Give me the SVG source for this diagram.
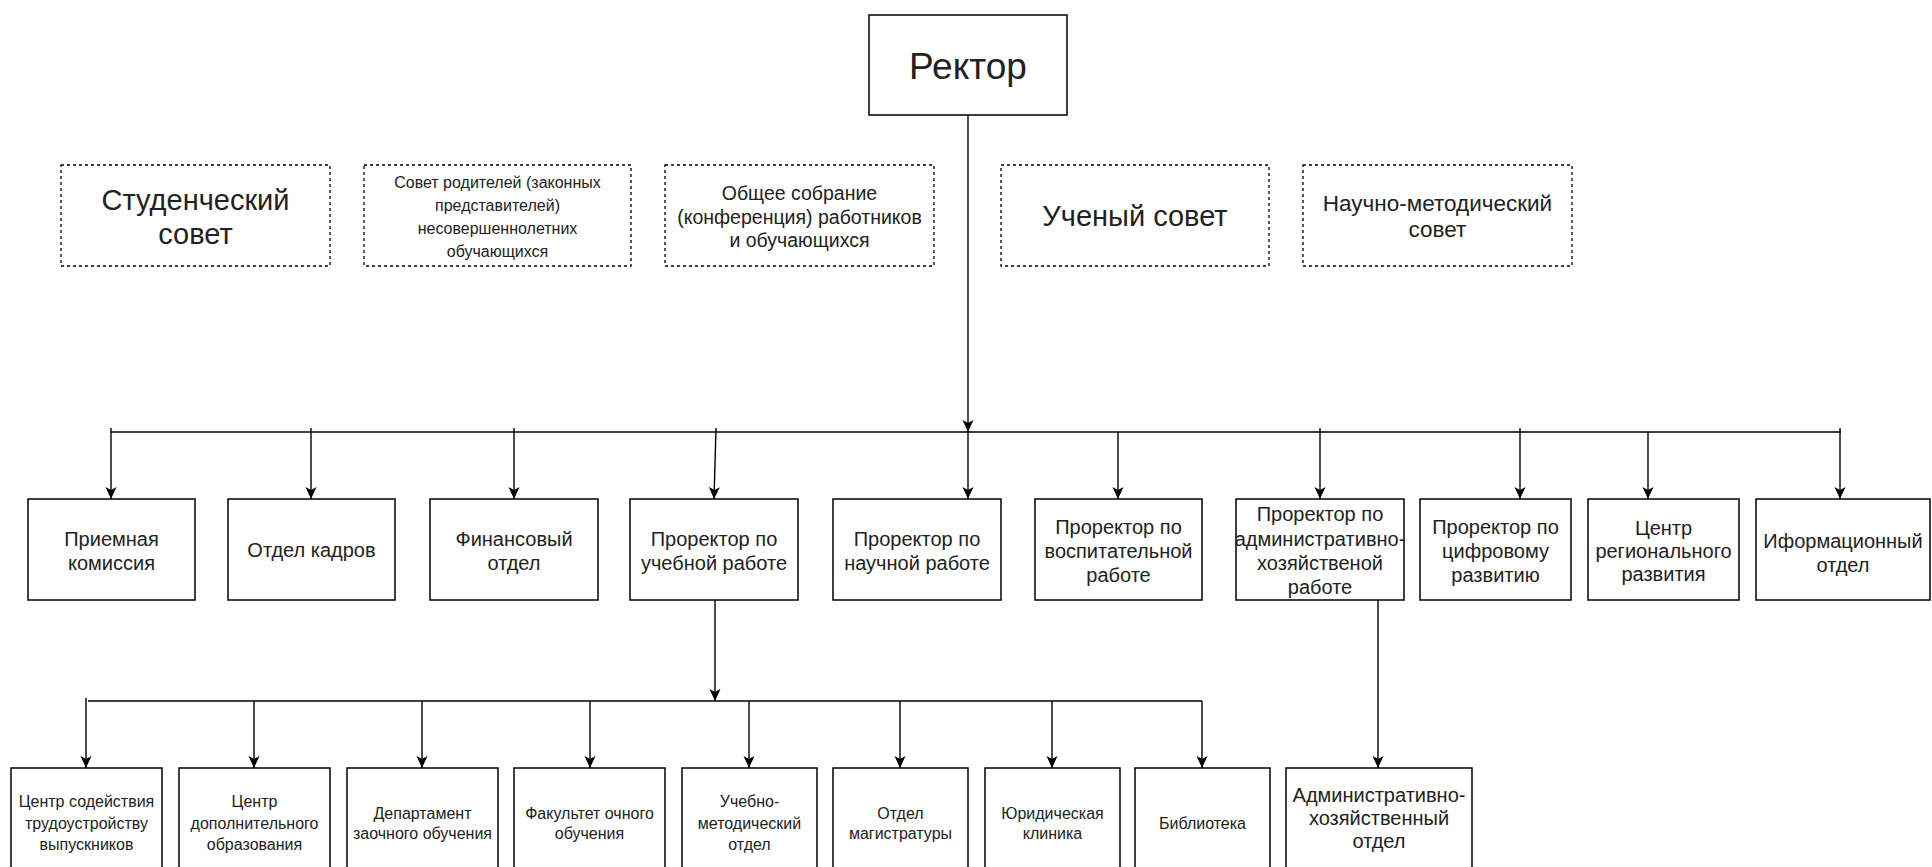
<svg xmlns="http://www.w3.org/2000/svg" width="1932" height="867" viewBox="0 0 1932 867">
<defs>
<marker id="arr" markerUnits="userSpaceOnUse" markerWidth="12" markerHeight="14" refX="12" refY="6" orient="auto" viewBox="0 0 12 12">
<path d="M0,0.5 L12,6 L0,11.5 L3,6 Z" fill="#000"/>
</marker>
<style>
.box{fill:#fff;stroke:#000;stroke-width:1.5}
.dash{fill:#fff;stroke:#000;stroke-width:1.3;stroke-dasharray:3 3}
.c{fill:none;stroke:#000;stroke-width:1.4}
.ca{fill:none;stroke:#000;stroke-width:1.4;marker-end:url(#arr)}
text{font-family:"Liberation Sans",Arial,sans-serif;fill:#222;text-anchor:middle}
.t1{font-size:20px}
.t2{font-size:16px}
</style>
</defs>
<rect width="1932" height="867" fill="#fff"/>

<g id="connectors">
<line class="ca" x1="968" y1="115" x2="968" y2="432"/>
<line class="c" x1="111" y1="432" x2="1841" y2="432"/>
<line class="ca" x1="111" y1="428" x2="111" y2="499"/>
<line class="ca" x1="311" y1="428" x2="311" y2="499"/>
<line class="ca" x1="514" y1="428" x2="514" y2="499"/>
<line class="ca" x1="716" y1="428" x2="714" y2="499"/>
<line class="ca" x1="968" y1="432" x2="968" y2="499"/>
<line class="ca" x1="1118" y1="432" x2="1118" y2="499"/>
<line class="ca" x1="1320" y1="428" x2="1320" y2="499"/>
<line class="ca" x1="1520" y1="428" x2="1520" y2="499"/>
<line class="ca" x1="1648" y1="432" x2="1648" y2="499"/>
<line class="ca" x1="1840" y1="428" x2="1840" y2="499"/>
<line class="ca" x1="715" y1="600" x2="715" y2="701"/>
<line class="c" x1="88" y1="701" x2="1202" y2="701"/>
<line class="ca" x1="86" y1="698" x2="86" y2="768"/>
<line class="ca" x1="254" y1="701" x2="254" y2="768"/>
<line class="ca" x1="422" y1="701" x2="422" y2="768"/>
<line class="ca" x1="590" y1="701" x2="590" y2="768"/>
<line class="ca" x1="749" y1="701" x2="749" y2="768"/>
<line class="ca" x1="900" y1="701" x2="900" y2="768"/>
<line class="ca" x1="1052" y1="701" x2="1052" y2="768"/>
<line class="ca" x1="1202" y1="701" x2="1202" y2="768"/>
<line class="ca" x1="1378" y1="600" x2="1378" y2="768"/>
</g>

<g id="rector">
<rect class="box" x="869" y="15" width="198" height="100"/>
<text x="968" y="79" style="font-size:37px">Ректор</text>
</g>

<g id="student-council">
<rect class="dash" x="61" y="165" width="269" height="101"/>
<text x="195.5" y="210" style="font-size:29px">Студенческий</text>
<text x="195.5" y="244" style="font-size:29px">совет</text>
</g>
<g id="parents-council">
<rect class="dash" x="364" y="165" width="267" height="101"/>
<text x="497.5" y="188" style="font-size:16px">Совет родителей (законных</text>
<text x="497.5" y="211" style="font-size:16px">представителей)</text>
<text x="497.5" y="234" style="font-size:16px">несовершеннолетних</text>
<text x="497.5" y="257" style="font-size:16px">обучающихся</text>
</g>
<g id="general-meeting">
<rect class="dash" x="665" y="165" width="269" height="101"/>
<text x="799.5" y="200" style="font-size:19.5px">Общее собрание</text>
<text x="799.5" y="223.5" style="font-size:19.5px">(конференция) работников</text>
<text x="799.5" y="247" style="font-size:19.5px">и обучающихся</text>
</g>
<g id="academic-council">
<rect class="dash" x="1001" y="165" width="268" height="101"/>
<text x="1135" y="226" style="font-size:29px">Ученый совет</text>
</g>
<g id="methodical-council">
<rect class="dash" x="1303" y="165" width="269" height="101"/>
<text x="1437.5" y="211" style="font-size:22.5px">Научно-методический</text>
<text x="1437.5" y="237" style="font-size:22.5px">совет</text>
</g>

<g id="admissions">
<rect class="box" x="28" y="499" width="167" height="101"/>
<text class="t1" x="111.5" y="546">Приемная</text>
<text class="t1" x="111.5" y="570">комиссия</text>
</g>
<g id="hr">
<rect class="box" x="228" y="499" width="167" height="101"/>
<text class="t1" x="311.5" y="557">Отдел кадров</text>
</g>
<g id="finance">
<rect class="box" x="430" y="499" width="168" height="101"/>
<text class="t1" x="514" y="546">Финансовый</text>
<text class="t1" x="514" y="570">отдел</text>
</g>
<g id="vp-education">
<rect class="box" x="630" y="499" width="168" height="101"/>
<text class="t1" x="714" y="546">Проректор по</text>
<text class="t1" x="714" y="570">учебной работе</text>
</g>
<g id="vp-science">
<rect class="box" x="833" y="499" width="168" height="101"/>
<text class="t1" x="917" y="546">Проректор по</text>
<text class="t1" x="917" y="570">научной работе</text>
</g>
<g id="vp-upbringing">
<rect class="box" x="1035" y="499" width="167" height="101"/>
<text class="t1" x="1118.5" y="534">Проректор по</text>
<text class="t1" x="1118.5" y="558">воспитательной</text>
<text class="t1" x="1118.5" y="582">работе</text>
</g>
<g id="vp-admin">
<rect class="box" x="1236" y="499" width="168" height="101"/>
<text class="t1" x="1320" y="521">Проректор по</text>
<text class="t1" x="1320" y="546">административно-</text>
<text class="t1" x="1320" y="570">хозяйственой</text>
<text class="t1" x="1320" y="594">работе</text>
</g>
<g id="vp-digital">
<rect class="box" x="1420" y="499" width="151" height="101"/>
<text class="t1" x="1495.5" y="534">Проректор по</text>
<text class="t1" x="1495.5" y="558">цифровому</text>
<text class="t1" x="1495.5" y="582">развитию</text>
</g>
<g id="regional-center">
<rect class="box" x="1588" y="499" width="151" height="101"/>
<text class="t1" x="1663.5" y="535">Центр</text>
<text class="t1" x="1663.5" y="558">регионального</text>
<text class="t1" x="1663.5" y="581">развития</text>
</g>
<g id="info-dept">
<rect class="box" x="1756" y="499" width="174" height="101"/>
<text class="t1" x="1843" y="548">Иформационный</text>
<text class="t1" x="1843" y="572">отдел</text>
</g>

<g id="career-center">
<rect class="box" x="11" y="768" width="151" height="120"/>
<text class="t2" x="86.5" y="807">Центр содействия</text>
<text class="t2" x="86.5" y="828.5">трудоустройству</text>
<text class="t2" x="86.5" y="850">выпускников</text>
</g>
<g id="extra-education">
<rect class="box" x="179" y="768" width="151" height="120"/>
<text class="t2" x="254.5" y="807">Центр</text>
<text class="t2" x="254.5" y="828.5">дополнительного</text>
<text class="t2" x="254.5" y="850">образования</text>
</g>
<g id="extramural">
<rect class="box" x="347" y="768" width="151" height="120"/>
<text class="t2" x="422.5" y="819">Департамент</text>
<text class="t2" x="422.5" y="839">заочного обучения</text>
</g>
<g id="fulltime">
<rect class="box" x="514" y="768" width="151" height="120"/>
<text class="t2" x="589.5" y="819">Факультет очного</text>
<text class="t2" x="589.5" y="839">обучения</text>
</g>
<g id="methodical-dept">
<rect class="box" x="682" y="768" width="135" height="120"/>
<text class="t2" x="749.5" y="807">Учебно-</text>
<text class="t2" x="749.5" y="828.5">методический</text>
<text class="t2" x="749.5" y="850">отдел</text>
</g>
<g id="masters">
<rect class="box" x="833" y="768" width="135" height="120"/>
<text class="t2" x="900.5" y="819">Отдел</text>
<text class="t2" x="900.5" y="839">магистратуры</text>
</g>
<g id="legal-clinic">
<rect class="box" x="985" y="768" width="135" height="120"/>
<text class="t2" x="1052.5" y="819">Юридическая</text>
<text class="t2" x="1052.5" y="839">клиника</text>
</g>
<g id="library">
<rect class="box" x="1135" y="768" width="135" height="120"/>
<text class="t2" x="1202.5" y="829">Библиотека</text>
</g>
<g id="admin-dept">
<rect class="box" x="1286" y="768" width="186" height="120"/>
<text class="t1" x="1379" y="802">Административно-</text>
<text class="t1" x="1379" y="825">хозяйственный</text>
<text class="t1" x="1379" y="848">отдел</text>
</g>
</svg>
